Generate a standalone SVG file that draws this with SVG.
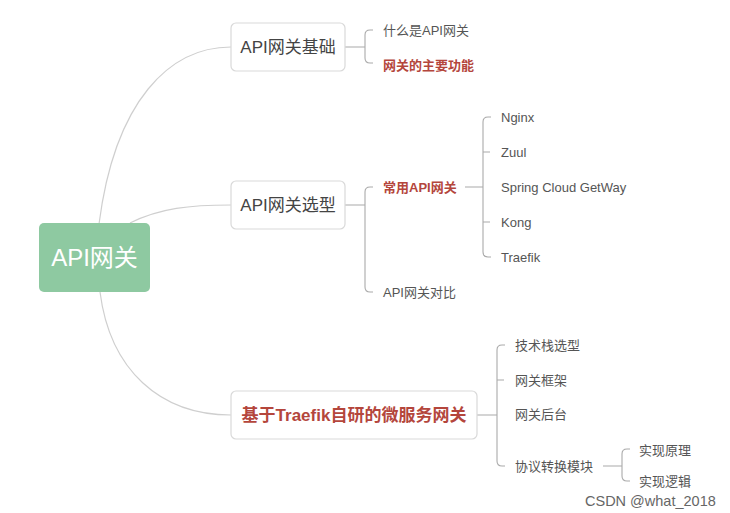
<svg xmlns="http://www.w3.org/2000/svg" width="730" height="513" viewBox="0 0 730 513">
<style>
.f{font-family:"Liberation Sans","Noto Sans CJK SC",sans-serif}
.box{fill:#fff;stroke:#d9d9d9;stroke-width:1.2}
.t1{font-size:17px;fill:#444}
.t2{font-size:13px;fill:#555}
.red{fill:#b4463c;font-weight:bold}
.c{fill:none;stroke:#cfcfcf;stroke-width:1.2}
.b{fill:none;stroke:#aaa;stroke-width:1.1}
</style>
<rect width="730" height="513" fill="#fff"/>
<g id="connectors">
<path class="c" d="M99,224 C115,100 170,47 231,47"/>
<path class="c" d="M130,223 C160,208 190,205 231,205"/>
<path class="c" d="M100,292 C110,370 160,415 231,415"/>
<path class="b" d="M345,47 H365 M373,30 H370 Q365,30 365,35 V58 Q365,63 370,63 H373"/>
<path class="b" d="M345,205 H365 M373,187 H370 Q365,187 365,192 V287 Q365,292 370,292 H373"/>
<path class="b" d="M465,187 H483 M491,117 H488 Q483,117 483,122 V252 Q483,257 488,257 H491 M483,152 H490 M483,222 H490"/>
<path class="b" d="M477,415 H497 M505,345 H502 Q497,345 497,350 V461 Q497,466 502,466 H505 M497,380 H504"/>
<path class="b" d="M603,466 H622 M630,449 H627 Q622,449 622,454 V476 Q622,481 627,481 H630"/>
</g>
<g id="root">
<rect x="39" y="223" width="111" height="69" rx="5" fill="#8ec9a1"/>
<text class="f" x="94.5" y="266" font-size="24" fill="#fff" text-anchor="middle">API网关</text>
</g>
<g id="n1">
<rect class="box" x="231" y="23" width="114" height="48" rx="5"/>
<text class="f t1" x="288" y="53" text-anchor="middle">API网关基础</text>
</g>
<g id="n1a"><text class="f t2" x="383" y="35">什么是API网关</text></g>
<g id="n1b"><text class="f t2 red" x="383" y="70">网关的主要功能</text></g>
<g id="n2">
<rect class="box" x="231" y="181" width="114" height="48" rx="5"/>
<text class="f t1" x="288" y="211" text-anchor="middle">API网关选型</text>
</g>
<g id="n2a"><text class="f t2 red" x="383" y="192">常用API网关</text></g>
<g id="n2b"><text class="f t2" x="383" y="297">API网关对比</text></g>
<g id="g1"><text class="f t2" x="501" y="122" font-size="13.5">Nginx</text></g>
<g id="g2"><text class="f t2" x="501" y="157" font-size="13.5">Zuul</text></g>
<g id="g3"><text class="f t2" x="501" y="192" font-size="13.5">Spring Cloud GetWay</text></g>
<g id="g4"><text class="f t2" x="501" y="227" font-size="13.5">Kong</text></g>
<g id="g5"><text class="f t2" x="501" y="262" font-size="13.5">Traefik</text></g>
<g id="n3">
<rect class="box" x="231" y="391" width="246" height="48" rx="5"/>
<text class="f red" x="354" y="421" font-size="17" text-anchor="middle">基于Traefik自研的微服务网关</text>
</g>
<g id="n3a"><text class="f t2" x="515" y="350">技术栈选型</text></g>
<g id="n3b"><text class="f t2" x="515" y="385">网关框架</text></g>
<g id="n3c"><text class="f t2" x="515" y="419">网关后台</text></g>
<g id="n3d"><text class="f t2" x="515" y="471">协议转换模块</text></g>
<g id="p1"><text class="f t2" x="639" y="455">实现原理</text></g>
<g id="p2"><text class="f t2" x="639" y="486">实现逻辑</text></g>
<text class="f" x="585" y="506" font-size="14.5" fill="#666">CSDN @what_2018</text>
</svg>
